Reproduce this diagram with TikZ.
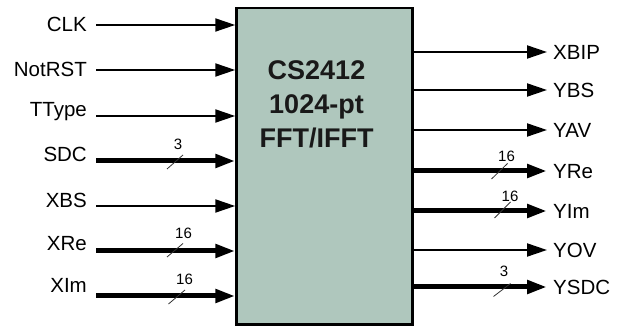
\documentclass[tikz,border=0pt]{standalone}
\usepackage{fontspec}
\setmainfont{Liberation Sans}
\usetikzlibrary{arrows.meta}
\definecolor{boxfill}{RGB}{175,199,189}

\begin{document}
\begin{tikzpicture}[x=1pt,y=-1pt,
  sig/.style={line width=2pt,-{Triangle[length=20pt,width=13pt]}},
  bus/.style={line width=5pt,-{Triangle[length=20pt,width=13pt]}},
  lbl/.style={font=\fontsize{20.5}{24}\selectfont,inner ysep=0pt,inner xsep=0pt,text height=14.7pt,text depth=0pt},
  outlbl/.style={lbl,inner xsep=6pt,anchor=west},
  num/.style={font=\fontsize{15}{18}\selectfont,inner sep=0pt,text height=10.7pt,text depth=0pt},
  tick/.style={line width=0.8pt,draw=black!80},
  title/.style={font=\fontsize{27}{34}\selectfont\bfseries,align=center,inner sep=0pt,text=black!90}]

\useasboundingbox (0,0) rectangle (629,328);

\node [draw,fill=boxfill,line width=2.5pt,inner sep=0pt,minimum width=175.8pt,minimum height=316.7pt] (fft) at (324.4,166.3) {};
\node [title] (ttl) at (316.5,104) {CS2412\\1024-pt\\FFT/IFFT};

\node [lbl,anchor=east] (lclk) at (87,24.5) {CLK};
\node [lbl,anchor=east] (lnotrst) at (87,69) {NotRST};
\node [lbl,anchor=east] (lttype) at (87,109) {TType};
\node [lbl,anchor=east] (lsdc) at (87,154.5) {SDC};
\node [lbl,anchor=east] (lxbs) at (87,200) {XBS};
\node [lbl,anchor=east] (lxre) at (87,243) {XRe};
\node [lbl,anchor=east] (lxim) at (87,285) {XIm};

\coordinate (iclk) at (96,25);
\coordinate (inotrst) at (96,70);
\coordinate (ittype) at (96,116);
\coordinate (isdc) at (96,161);
\coordinate (ixbs) at (96,206);
\coordinate (ixre) at (96,251);
\coordinate (ixim) at (96,296);

\draw [sig] (iclk) -- (iclk -| fft.west);
\draw [sig] (inotrst) -- (inotrst -| fft.west);
\draw [sig] (ittype) -- (ittype -| fft.west);
\draw [bus] (isdc) -- (isdc -| fft.west);
\draw [sig] (ixbs) -- (ixbs -| fft.west);
\draw [bus] (ixre) -- (ixre -| fft.west);
\draw [bus] (ixim) -- (ixim -| fft.west);

\node [outlbl] (oxbip) at (547,52) {XBIP};
\node [outlbl] (oybs) at (547,90) {YBS};
\node [outlbl] (oyav) at (547,130) {YAV};
\node [outlbl] (oyre) at (547,171) {YRe};
\node [outlbl] (oyim) at (547,211) {YIm};
\node [outlbl] (oyov) at (547,250) {YOV};
\node [outlbl] (oysdc) at (547,287) {YSDC};

\draw [sig] (fft.east |- oxbip) -- (oxbip.west);
\draw [sig] (fft.east |- oybs) -- (oybs.west);
\draw [sig] (fft.east |- oyav) -- (oyav.west);
\draw [bus] (fft.east |- oyre) -- (oyre.west);
\draw [bus] (fft.east |- oyim) -- (oyim.west);
\draw [sig] (fft.east |- oyov) -- (oyov.west);
\draw [bus] (fft.east |- oysdc) -- (oysdc.west);

\draw [tick] (167,169) -- (183,155);
\node [num] (nsdc) at (178,144) {3};
\draw [tick] (167,257) -- (183,243.5);
\node [num] (nxre) at (183.5,233.5) {16};
\draw [tick] (168.5,304) -- (185,290);
\node [num] (nxim) at (184.5,279) {16};
\draw [tick] (491.5,179) -- (507.5,163.5);
\node [num] (nyre) at (506.5,156) {16};
\draw [tick] (494.5,218) -- (510.5,202);
\node [num] (nyim) at (510,196) {16};
\draw [tick] (493.5,296.5) -- (510.5,283.5);
\node [num] (nysdc) at (504,271.5) {3};

\end{tikzpicture}
\end{document}
